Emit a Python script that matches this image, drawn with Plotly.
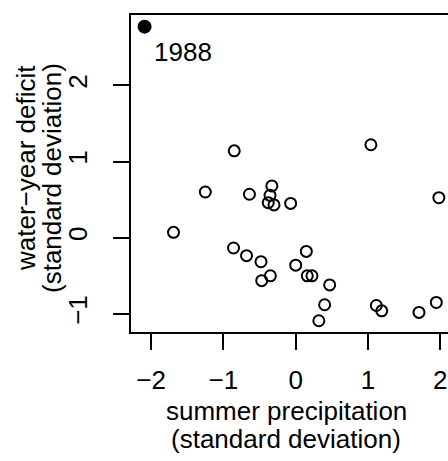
import plotly.graph_objects as go

# data (standard deviations)
precip = [-1.25, -1.69, -0.64, -0.33, -0.355, -0.38, -0.30, -0.07, 1.98,
          -0.86, -0.68, -0.48, -0.47, -0.35, 0.0, 0.147, 0.16, 0.225, 0.47,
          0.40, 0.32, 1.115, 1.19, 1.705, 1.945, -0.85, 1.04]
deficit = [0.60, 0.07, 0.57, 0.68, 0.556, 0.46, 0.43, 0.45, 0.525,
           -0.135, -0.236, -0.315, -0.564, -0.50, -0.36, -0.18, -0.50, -0.50, -0.62,
           -0.88, -1.09, -0.89, -0.96, -0.98, -0.85, 1.14, 1.22]
hl_precip = [-2.09]
hl_deficit = [2.77]
hl_label = ["1988"]
xticks = [-2, -1, 0, 1, 2]
yticks = [-1, 0, 1, 2]

FONT = "Liberation Sans, Arial, Helvetica, sans-serif"
FS = 26
W, H = 448, 461
L, R, T, B = 131, 0, 15, 129
px0, pxs = 295.7, 72.3   # pixel of x=0, pixels per unit
py0, pys = 237.7, 76.2   # pixel of y=0, pixels per unit

xr = [(L - px0) / pxs, (W - R - px0) / pxs]
yr = [(py0 - (H - B)) / pys, (py0 - T) / pys]

fig = go.Figure()
fig.add_trace(go.Scatter(
    x=precip, y=deficit, mode="markers",
    marker=dict(size=11, color="rgba(0,0,0,0)", line=dict(color="black", width=2)),
    showlegend=False, cliponaxis=False))
fig.add_trace(go.Scatter(
    x=hl_precip, y=hl_deficit, mode="markers",
    marker=dict(size=14, color="black", line=dict(width=0)),
    showlegend=False, cliponaxis=False))

fig.add_annotation(x=hl_precip[0], y=hl_deficit[0], text=hl_label[0],
                   showarrow=False, xanchor="left", yanchor="middle",
                   xshift=7, yshift=-25, font=dict(family=FONT, size=FS, color="black"))

# axis titles
xc = (286 - L) / (W - L - R)
fig.add_annotation(xref="paper", yref="paper", x=xc,
                   y=0, yshift=-79, text="summer precipitation", showarrow=False,
                   xanchor="center", yanchor="middle", font=dict(family=FONT, size=FS, color="black"))
fig.add_annotation(xref="paper", yref="paper", x=xc,
                   y=0, yshift=-107, text="(standard deviation)", showarrow=False,
                   xanchor="center", yanchor="middle", font=dict(family=FONT, size=FS, color="black"))
fig.add_annotation(xref="paper", yref="paper", x=0, xshift=-(L - 26), y=(H - B - 168) / (H - T - B),
                   text="water−year deficit", textangle=-90, showarrow=False,
                   xanchor="center", yanchor="middle", font=dict(family=FONT, size=FS, color="black"))
fig.add_annotation(xref="paper", yref="paper", x=0, xshift=-(L - 52), y=(H - B - 178) / (H - T - B),
                   text="(standard deviation)", textangle=-90, showarrow=False,
                   xanchor="center", yanchor="middle", font=dict(family=FONT, size=FS, color="black"))

fig.update_xaxes(range=xr, tickvals=xticks, ticks="outside", ticklen=16, tickwidth=2,
                 tickcolor="black", showline=True, linewidth=2, linecolor="black",
                 mirror=True, showgrid=False, zeroline=False, ticklabelstandoff=8,
                 tickfont=dict(family=FONT, size=FS, color="black"))
fig.update_yaxes(range=yr, tickvals=yticks, ticks="outside", ticklen=16, tickwidth=2,
                 tickcolor="black", showline=True, linewidth=2, linecolor="black",
                 showgrid=False, zeroline=False, tickangle=-90, ticklabelstandoff=16,
                 tickfont=dict(family=FONT, size=FS, color="black"))

fig.update_layout(width=W, height=H, margin=dict(l=L, r=R, t=T, b=B, pad=0),
                  plot_bgcolor="white", paper_bgcolor="white")
fig.write_html("out.html")
